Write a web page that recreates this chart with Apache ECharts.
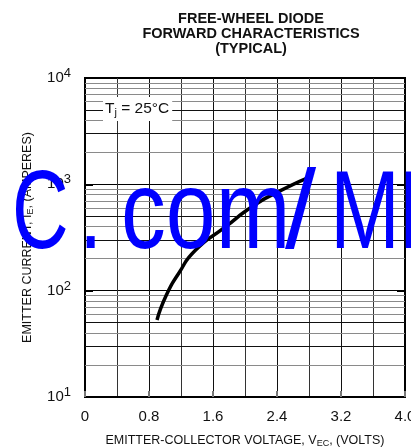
<!DOCTYPE html>
<html>
<head>
<meta charset="utf-8">
<script src="https://cdn.jsdelivr.net/npm/echarts@6/dist/echarts.min.js"></script>
<style>html,body{margin:0;padding:0;background:#fff}#c{width:411px;height:448px}</style>
</head>
<body>
<div id="c"></div>
<script>
// Data (Tj = 25°C)
const voltage = [0.9, 1.02, 1.17, 1.38, 1.75, 2.1, 2.4, 2.77];
const current = [53, 92, 145, 240, 395, 625, 840, 1140];
const xTicks = [0, 0.8, 1.6, 2.4, 3.2, 4.0];
const yDecades = [10, 100, 1000, 10000];
const minorMultipliers = [2, 3, 4, 5, 6, 7, 8, 9];

const FONT = 'Liberation Sans, Arial, sans-serif';
const chart = echarts.init(document.getElementById('c'), null, {renderer: 'canvas'});

const minorLines = [];
yDecades.slice(0, 3).forEach(d => {
  minorMultipliers.forEach(m => {
    const dark = (m === 3 || m === 5);
    minorLines.push({yAxis: d * m, lineStyle: {color: dark ? '#111' : '#8a8a8a', width: 1, type: 'solid'}});
  });
});

const supLabel = v => {
  const e = Math.round(Math.log10(v));
  return '{b|10}{s|' + e + '}';
};
const rich = {
  b: {fontSize: 15, fontFamily: FONT, color: '#111'},
  s: {fontSize: 13, fontFamily: FONT, color: '#111', padding: [0, 0, 9, 0]}
};

const wm = (txt, x, sx) => ({
  type: 'text', x: x, y: 161, scaleX: sx, scaleY: 1, z: 100,
  style: {text: txt, x: 0, y: 0, fill: '#0000ff', font: '112px ' + FONT, verticalAlign: 'top'}
});

chart.setOption({
  animation: false,
  backgroundColor: '#fff',
  title: {
    text: 'FREE-WHEEL DIODE\nFORWARD CHARACTERISTICS\n(TYPICAL)',
    left: 246, top: 6, textAlign: 'center',
    textStyle: {fontSize: 14.5, fontWeight: 'bold', fontFamily: FONT, color: '#111', lineHeight: 15}
  },
  grid: {left: 85, right: 6, top: 78, bottom: 51, show: true, borderColor: '#000', borderWidth: 2,
    backgroundColor: 'transparent', outerBoundsMode: 'none', containLabel: false},
  xAxis: {
    type: 'value', min: 0, max: 4.0, interval: 0.8,
    name: 'EMITTER-COLLECTOR VOLTAGE, V{sub|EC}, (VOLTS)',
    nameLocation: 'middle', nameGap: 36,
    nameTextStyle: {fontSize: 12.5, fontFamily: FONT, color: '#111',
      rich: {sub: {fontSize: 9, fontFamily: FONT, color: '#111', padding: [6, 0, 0, 0]}}},
    axisLine: {show: true, lineStyle: {color: '#000', width: 2}},
    axisTick: {show: true, inside: true, length: 6, lineStyle: {color: '#777', width: 2}},
    axisLabel: {fontSize: 15, fontFamily: FONT, color: '#111', margin: 12,
      formatter: v => (v === 0 ? '0' : v.toFixed(1))},
    splitLine: {show: true, lineStyle: {color: '#111', width: 1}},
    minorTick: {show: false, splitNumber: 2},
    minorSplitLine: {show: true, lineStyle: {color: '#333', width: 1}}
  },
  yAxis: [{
    type: 'log', logBase: 10, min: 10, max: 10000,
    name: 'EMITTER CURRENT, I{sub|E}, (AMPERES)',
    nameLocation: 'middle', nameGap: 50,
    nameTextStyle: {fontSize: 12.5, fontFamily: FONT, color: '#111',
      rich: {sub: {fontSize: 9, fontFamily: FONT, color: '#111', padding: [6, 0, 0, 0]}}},
    axisLine: {show: true, lineStyle: {color: '#000', width: 2}},
    axisTick: {show: true, inside: true, length: 8, lineStyle: {color: '#000', width: 2}},
    axisLabel: {margin: 14, formatter: supLabel, rich: rich},
    splitLine: {show: true, lineStyle: {color: '#000', width: 1}}
  }, {
    type: 'log', logBase: 10, min: 10, max: 10000, position: 'right',
    axisLine: {show: true, lineStyle: {color: '#000', width: 2}},
    axisTick: {show: true, inside: true, length: 8, lineStyle: {color: '#000', width: 2}},
    axisLabel: {show: false},
    splitLine: {show: false}
  }],
  series: [{
    type: 'line',
    data: voltage.map((v, i) => [v, current[i]]),
    smooth: 0.6,
    showSymbol: false,
    lineStyle: {color: '#000', width: 3.5},
    z: 5,
    markLine: {
      silent: true, symbol: 'none', label: {show: false}, animation: false,
      data: minorLines
    }
  }],
  graphic: [
    {
      type: 'text', x: 103, y: 97, z: 50,
      style: {
        text: 'T{sub|j} = 25°C',
        font: '15.5px ' + FONT, fill: '#111',
        backgroundColor: '#fff', padding: [2, 3, 3, 2],
        rich: {sub: {font: '11px ' + FONT, fill: '#111', padding: [8, 0, 0, 0]}}
      }
    },
    wm('C', 12, 0.7),
    wm('.', 79, 0.75),
    wm('com', 121, 0.8),
    wm('/', 285, 1.0),
    wm('M', 330, 0.75),
    wm('I', 398, 0.75)
  ]
});
</script>
</body>
</html>
